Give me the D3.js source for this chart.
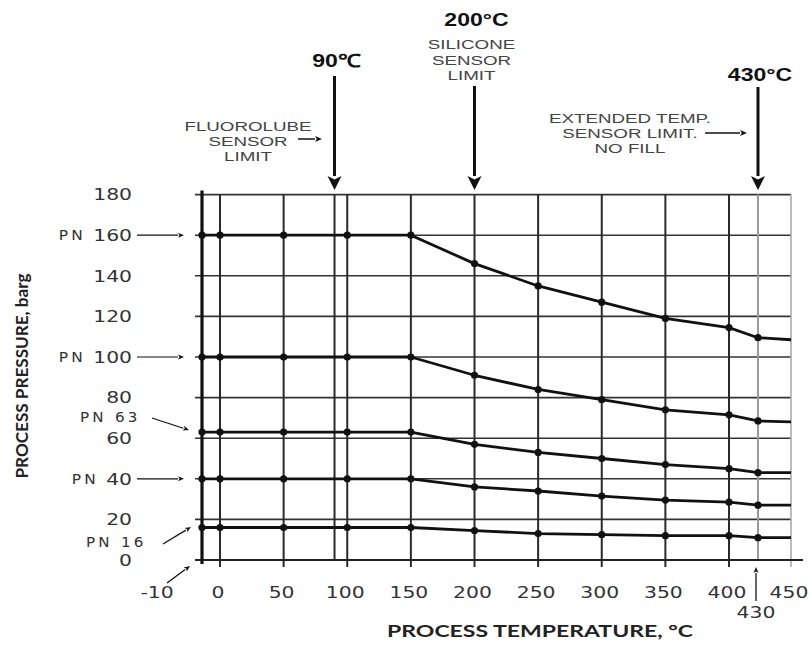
<!DOCTYPE html>
<html>
<head>
<meta charset="utf-8">
<script src="https://cdn.jsdelivr.net/npm/d3@7"></script>
<style>
  html, body { margin: 0; padding: 0; background: #fff; }
  svg { display: block; }
</style>
</head>
<body>
<svg id="chart" width="810" height="646"></svg>
<script>
// ---------- data ----------
const temps = [-10, 0, 50, 100, 150, 200, 250, 300, 350, 400, 430, 450];
const pn160 = [160, 160, 160, 160, 160, 146, 135, 127, 119, 114.5, 109.5, 108.5];
const pn100 = [100, 100, 100, 100, 100, 91, 84, 79, 74, 71.5, 68.5, 68];
const pn63  = [63, 63, 63, 63, 63, 57, 53, 50, 47, 45, 43, 43];
const pn40  = [40, 40, 40, 40, 40, 36, 34, 31.5, 29.5, 28.5, 27, 27];
const pn16  = [16, 16, 16, 16, 16, 14.5, 13, 12.5, 12, 12, 11, 11];
const seriesNames = ["PN 160", "PN 100", "PN 63", "PN 40", "PN 16"];
const dotTemps = [-10, 0, 50, 100, 150, 200, 250, 300, 350, 400, 430];
const gridTemps = [0, 50, 90, 100, 150, 200, 250, 300, 350, 400];
const yTicks = [0, 20, 40, 60, 80, 100, 120, 140, 160, 180];
const xTickLabels = [0, 50, 100, 150, 200, 250, 300, 350, 400, 450];
const limitTemps = [90, 200, 430];
const limitLabels = ["90\u2103", "200°C", "430°C"];

// ---------- scales ----------
const svg = d3.select("#chart");
const x = d3.scaleLinear().domain([-10, 0, 400, 430, 450]).range([202, 220, 729, 758, 791]);
const y = d3.scaleLinear().domain([0, 180]).range([560, 194.6]);

const K = 1.27; // horizontal stretch of the original picture
function stretch(sel, k) {
  sel.each(function () {
    const w = this.getComputedTextLength();
    d3.select(this).attr("textLength", w * k).attr("lengthAdjust", "spacingAndGlyphs");
  });
  return sel;
}
function arrow(g, x1, y1, x2, y2, sw, hl, hw) {
  const a = Math.atan2(y2 - y1, x2 - x1);
  const bx = x2 - hl * Math.cos(a), by = y2 - hl * Math.sin(a);
  g.append("line").attr("x1", x1).attr("y1", y1).attr("x2", bx).attr("y2", by)
    .attr("stroke", "#111").attr("stroke-width", sw);
  const px = -Math.sin(a) * hw / 2, py = Math.cos(a) * hw / 2;
  g.append("path")
    .attr("d", `M${x2},${y2}L${bx + px},${by + py}L${bx + hl * 0.25 * Math.cos(a)},${by + hl * 0.25 * Math.sin(a)}L${bx - px},${by - py}Z`)
    .attr("fill", "#111");
}

// ---------- grid ----------
const grid = svg.append("g");
grid.selectAll("line.h").data(yTicks.filter(v => v > 0)).join("line")
  .attr("x1", x(-10) - 7).attr("x2", x(450)).attr("y1", d => y(d)).attr("y2", d => y(d))
  .attr("stroke", "#333").attr("stroke-width", 1.6);
grid.selectAll("line.v").data(gridTemps).join("line")
  .attr("x1", d => x(d)).attr("x2", d => x(d))
  .attr("y1", y(180)).attr("y2", d => d === 90 ? y(0) : y(0) + 7)
  .attr("stroke", "#2a2a2a").attr("stroke-width", 2);
grid.append("line").attr("x1", x(430)).attr("x2", x(430)).attr("y1", y(180)).attr("y2", y(0))
  .attr("stroke", "#9a9a9a").attr("stroke-width", 2);
grid.append("line").attr("x1", x(450)).attr("x2", x(450)).attr("y1", y(180)).attr("y2", y(0) + 7)
  .attr("stroke", "#aaa").attr("stroke-width", 1.6);
grid.append("line").attr("x1", x(-10) - 7).attr("x2", x(450) + 12).attr("y1", y(0)).attr("y2", y(0))
  .attr("stroke", "#222").attr("stroke-width", 2);
grid.append("line").attr("x1", x(-10)).attr("x2", x(-10)).attr("y1", y(180) - 4).attr("y2", y(0) + 4)
  .attr("stroke", "#111").attr("stroke-width", 3.2);

// ---------- series ----------
const allSeries = [pn160, pn100, pn63, pn40, pn16].map((vals, i) => ({
  name: seriesNames[i],
  pts: temps.map((t, j) => ({ t, v: vals[j] }))
}));
const line = d3.line().x(d => x(d.t)).y(d => y(d.v));
const sg = svg.append("g");
sg.selectAll("path.s").data(allSeries).join("path")
  .attr("d", d => line(d.pts)).attr("fill", "none")
  .attr("stroke", "#111").attr("stroke-width", 2.8).attr("stroke-linejoin", "round");
allSeries.forEach(s => {
  sg.selectAll(null).data(s.pts.filter(p => dotTemps.includes(p.t))).join("circle")
    .attr("cx", d => x(d.t)).attr("cy", d => y(d.v)).attr("r", 3.6).attr("fill", "#111");
});

// ---------- tick labels ----------
const tickFont = "'DejaVu Sans', Verdana, sans-serif";
const yl = svg.append("g").attr("font-family", tickFont).attr("font-size", 16).attr("fill", "#333");
const yLabelSel = yl.selectAll("text").data(yTicks).join("text")
  .attr("x", 132).attr("y", d => y(d)).attr("dy", "0.36em").attr("text-anchor", "end")
  .text(d => d);
stretch(yLabelSel, K);

const xl = svg.append("g").attr("font-family", tickFont).attr("font-size", 16).attr("fill", "#333");
stretch(xl.selectAll("text").data(xTickLabels).join("text")
  .attr("x", d => x(d) - 2).attr("y", 598).attr("text-anchor", "middle").text(d => d), K);
stretch(xl.append("text").attr("x", 157).attr("y", 598).attr("text-anchor", "middle").text("-10"), K);
stretch(xl.append("text").attr("x", x(430) - 2).attr("y", 618).attr("text-anchor", "middle").text("430"), K);

// ---------- annotations ----------
const ann = svg.append("g");
arrow(ann, 167, 583, x(-10) - 12, y(0) + 6, 1.3, 6, 5);
arrow(ann, x(430) - 2, 601, x(430) - 2, y(0) + 7, 1.3, 6, 5);

const pnFont = ann.append("g").attr("font-family", tickFont).attr("font-size", 14).attr("fill", "#333")
  .attr("letter-spacing", "3px");
[160, 100, 40].forEach(v => {
  const lab = yLabelSel.filter(d => d === v).node();
  const bb = lab.getBBox();
  stretch(pnFont.append("text").attr("x", bb.x - 7).attr("y", y(v)).attr("dy", "0.36em")
    .attr("text-anchor", "end").text("PN"), 1.1);
  arrow(ann, 137, y(v), x(-10) - 18, y(v), 1.2, 6, 5);
});
stretch(pnFont.append("text").attr("x", 80).attr("y", 422).text("PN 63"), 1.08);
arrow(ann, 152, 418, x(-10) - 13, y(63) - 2, 1.2, 6, 5);
stretch(pnFont.append("text").attr("x", 86).attr("y", 547).text("PN 16"), 1.08);
arrow(ann, 163, 544, x(-10) - 11, y(16) - 0.5, 1.2, 6, 5);

// top limit arrows
const topStart = [76, 86, 87];
limitTemps.forEach((t, i) => {
  arrow(ann, x(t), topStart[i], x(t), 190, 3, 14, 14);
});
const lblY = [67, 26, 81];
const big = ann.append("g").attr("font-family", "'Liberation Sans', Arial, sans-serif")
  .attr("font-weight", "bold").attr("font-size", 18).attr("fill", "#111");
limitTemps.forEach((t, i) => {
  stretch(big.append("text").attr("x", x(t) + 2).attr("y", lblY[i]).attr("text-anchor", "middle")
    .text(limitLabels[i]), 1.28);
});

const small = ann.append("g").attr("font-family", "'Liberation Sans', Arial, sans-serif")
  .attr("font-size", 13.4).attr("fill", "#444");
function block(lines, cx, ys) {
  lines.forEach((s, i) => {
    stretch(small.append("text").attr("x", cx).attr("y", ys[i]).attr("text-anchor", "middle").text(s), 1.4);
  });
}
block(["SILICONE", "SENSOR", "LIMIT"], x(200) - 3, [49, 64.5, 80]);
block(["FLUOROLUBE", "SENSOR", "LIMIT"], 248, [130.5, 145.5, 160.5]);
block(["EXTENDED TEMP.", "SENSOR LIMIT.", "NO FILL"], 630, [122.5, 137.5, 152.5]);
arrow(ann, 298, 139, 322, 139, 1.5, 7, 6);
arrow(ann, 705, 133, 747, 133, 1.5, 7, 6);

// ---------- axis titles ----------
svg.append("text").attr("x", 540).attr("y", 637).attr("text-anchor", "middle")
  .attr("font-family", "Lato, 'Open Sans', sans-serif").attr("font-weight", "bold")
  .attr("font-size", 17).attr("fill", "#222")
  .attr("textLength", 306).attr("lengthAdjust", "spacingAndGlyphs")
  .text("PROCESS TEMPERATURE,  °C");
svg.append("text").attr("transform", "translate(28,376) rotate(-90)").attr("text-anchor", "middle")
  .attr("font-family", "Lato, 'Open Sans', sans-serif").attr("font-weight", "bold")
  .attr("font-size", 17).attr("fill", "#222")
  .attr("textLength", 205).attr("lengthAdjust", "spacingAndGlyphs")
  .text("PROCESS PRESSURE, barg");
</script>
</body>
</html>
